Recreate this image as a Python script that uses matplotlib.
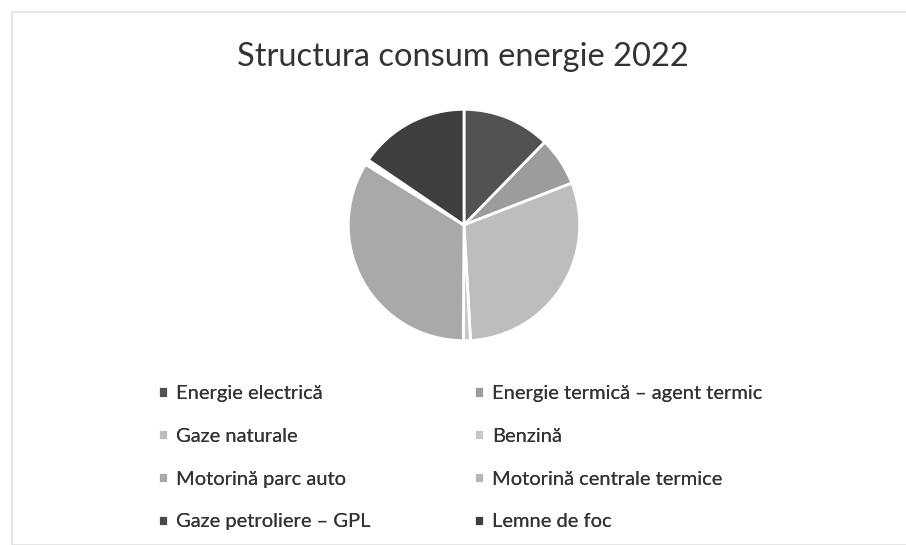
import matplotlib
matplotlib.use('Agg')
import matplotlib.pyplot as plt
from matplotlib.patches import Rectangle

plt.rcParams['font.family'] = ['Lato', 'DejaVu Sans']

# date (procente aproximative)
categorii = ['Energie electrică', 'Energie termică – agent termic', 'Gaze naturale',
             'Benzină', 'Motorină parc auto', 'Motorină centrale termice',
             'Gaze petroliere – GPL', 'Lemne de foc']
valori = [12.3, 6.8, 30.0, 1.0, 33.7, 0.4, 0.3, 15.5]
culori = ['#525252', '#9c9c9c', '#bdbdbd', '#c8c8c8', '#a9a9a9', '#b5b5b5',
          '#4a4a4a', '#3e3e3e']

W, H = 906, 545
fig = plt.figure(figsize=(W / 100, H / 100), dpi=100)

# rama slaba din scanare
fig.patches.append(Rectangle((12 / W, 0), 1, 1 - 12 / H, transform=fig.transFigure,
                             fill=False, edgecolor='#e2e2e2', linewidth=1.2))

fig.text(463 / W, 1 - 57 / H, 'Structura consum energie 2022', ha='center', va='center',
         fontsize=23.5, color='#333333')

ax = fig.add_axes([346 / W, 1 - 343 / H, 236 / W, 236 / H])
wedges, _ = ax.pie(valori, colors=culori, startangle=90, counterclock=False,
                   wedgeprops=dict(edgecolor='white', linewidth=2))
ax.set_xlim(-1.02, 1.02)
ax.set_ylim(-1.02, 1.02)

# legenda pe doua coloane, ordine pe randuri
for col, x in enumerate([140, 456]):
    idx = [i for i in range(len(categorii)) if i % 2 == col]
    leg = fig.legend([wedges[i] for i in idx], [categorii[i] for i in idx],
                     loc='upper left', bbox_to_anchor=(x / W, 1 - 367 / H),
                     frameon=False, fontsize=14.5, handlelength=0.5, handleheight=0.5,
                     handletextpad=0.4, labelspacing=1.28, labelcolor='#333333')
    fig.add_artist(leg)

fig.savefig('out.png', dpi=100)
